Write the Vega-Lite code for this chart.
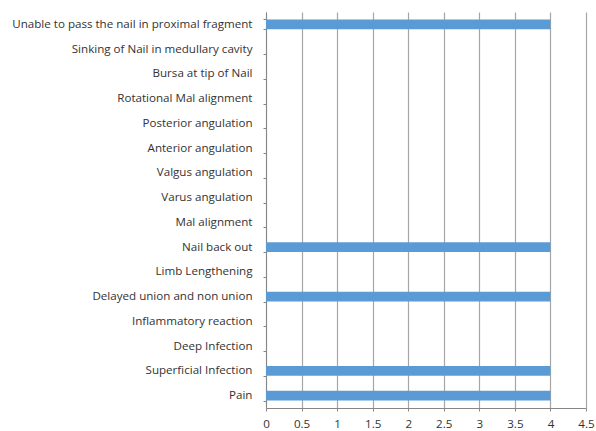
{
  "$schema": "https://vega.github.io/schema/vega-lite/v6.json",
  "width": 320,
  "height": 396,
  "autosize": "none",
  "padding": {"left": 266, "top": 12, "right": 10, "bottom": 23},
  "background": "white",
  "config": {
    "view": {"stroke": null},
    "font": "Open Sans"
  },
  "data": {
    "values": [
      {"complication": "Unable to pass the nail in proximal fragment", "count": 4},
      {"complication": "Sinking of Nail in medullary cavity", "count": 0},
      {"complication": "Bursa at tip of Nail", "count": 0},
      {"complication": "Rotational Mal alignment", "count": 0},
      {"complication": "Posterior angulation", "count": 0},
      {"complication": "Anterior angulation", "count": 0},
      {"complication": "Valgus angulation", "count": 0},
      {"complication": "Varus angulation", "count": 0},
      {"complication": "Mal alignment", "count": 0},
      {"complication": "Nail back out", "count": 4},
      {"complication": "Limb Lengthening", "count": 0},
      {"complication": "Delayed union and non union", "count": 4},
      {"complication": "Inflammatory reaction", "count": 0},
      {"complication": "Deep Infection", "count": 0},
      {"complication": "Superficial Infection", "count": 4},
      {"complication": "Pain", "count": 4}
    ]
  },
  "mark": {"type": "bar", "color": "#5b9bd5"},
  "encoding": {
    "y": {
      "field": "complication",
      "type": "nominal",
      "sort": null,
      "title": null,
      "scale": {"paddingInner": 0.6, "paddingOuter": 0.3},
      "axis": {
        "tickBand": "extent",
        "tickSize": 3,
        "tickColor": "#868686",
        "domainColor": "#868686",
        "labelPadding": 11,
        "labelFontSize": 11.6,
        "labelColor": "#333333",
        "labelLimit": 300,
        "grid": false
      }
    },
    "x": {
      "field": "count",
      "type": "quantitative",
      "title": null,
      "scale": {"domain": [0, 4.5], "nice": false},
      "axis": {
        "values": [0, 0.5, 1, 1.5, 2, 2.5, 3, 3.5, 4, 4.5],
        "labelExpr": "'' + datum.value",
        "grid": true,
        "gridColor": "#a6a6a6",
        "gridWidth": 1.2,
        "tickSize": 3,
        "tickColor": "#868686",
        "domainColor": "#868686",
        "labelPadding": 7,
        "labelFontSize": 11.6,
        "labelColor": "#333333",
        "labelFlush": false,
        "labelBound": false
      }
    }
  }
}
